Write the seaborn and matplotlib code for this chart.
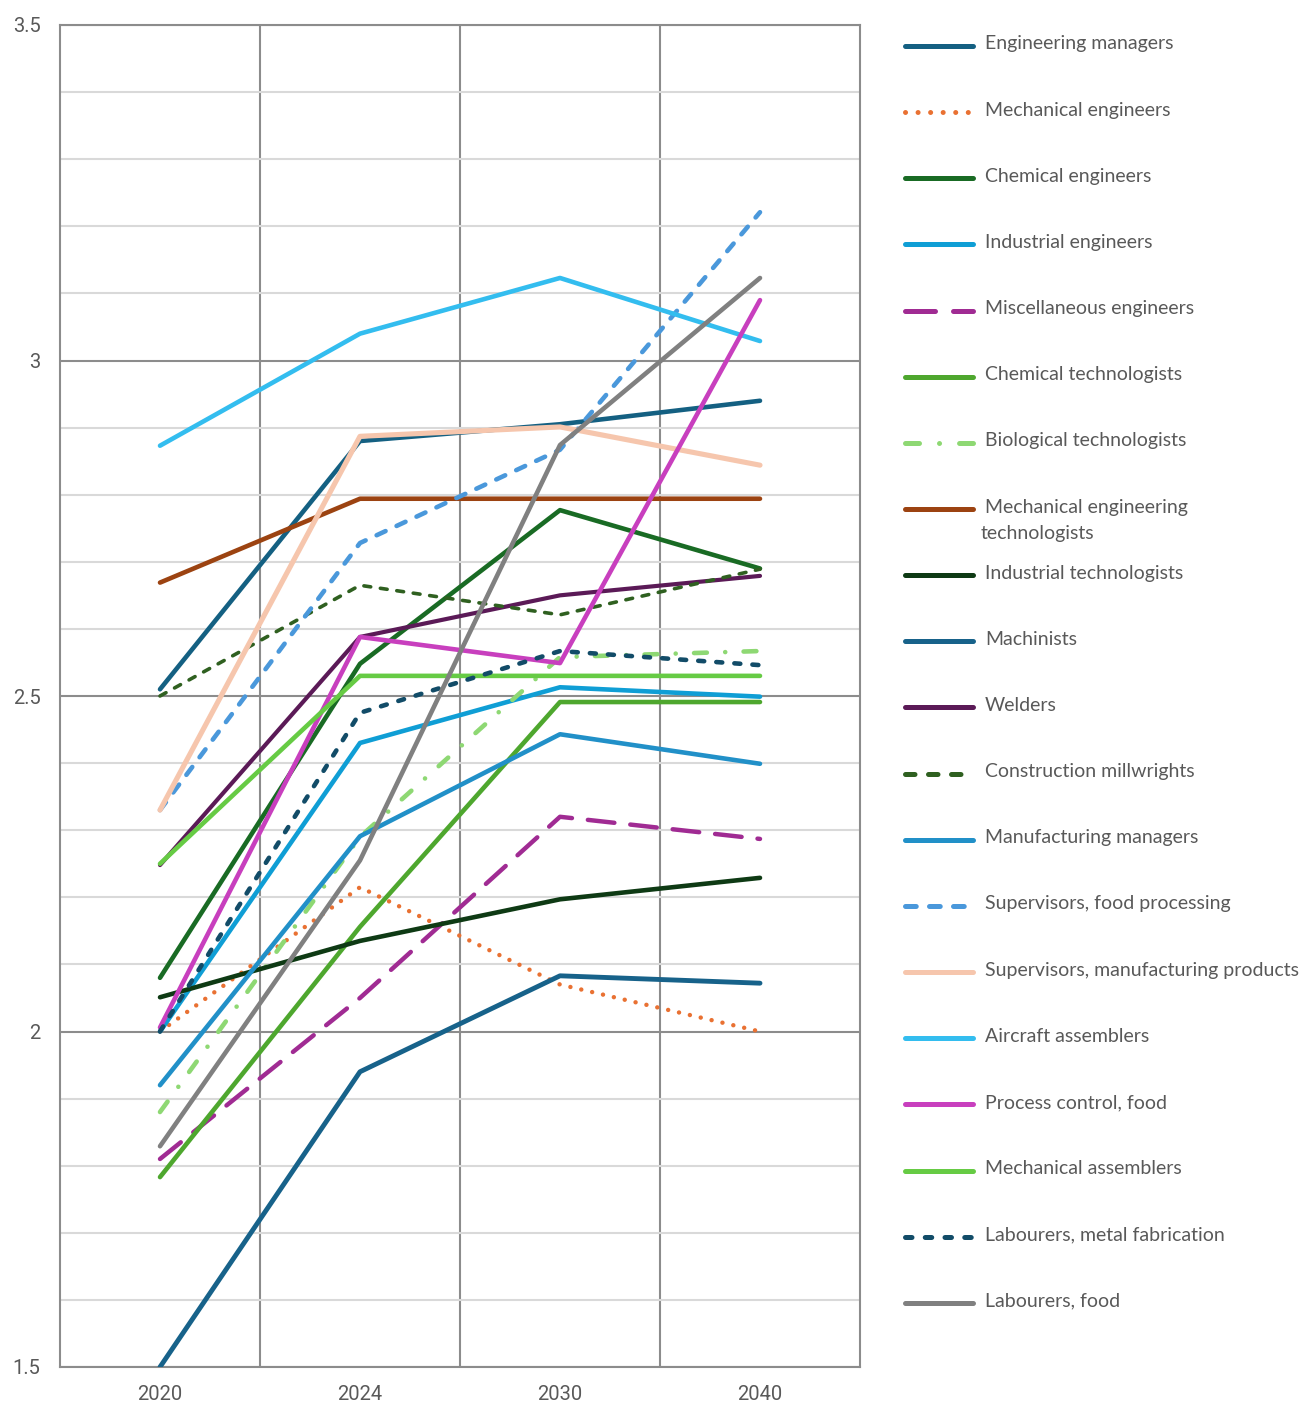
import matplotlib
matplotlib.use("Agg")
import matplotlib.pyplot as plt
from matplotlib.lines import Line2D
from matplotlib.ticker import MultipleLocator
import seaborn as sns
import pandas as pd

# ---------------- data ----------------
years = ["2020", "2024", "2030", "2040"]

labels = [
    "Engineering managers",
    "Mechanical engineers",
    "Chemical engineers",
    "Industrial engineers",
    "Miscellaneous engineers",
    "Chemical technologists",
    "Biological technologists",
    "Mechanical engineering technologists",
    "Industrial technologists",
    "Machinists",
    "Welders",
    "Construction millwrights",
    "Manufacturing managers",
    "Supervisors, food processing",
    "Supervisors, manufacturing products",
    "Aircraft assemblers",
    "Process control, food",
    "Mechanical assemblers",
    "Labourers, metal fabrication",
    "Labourers, food",
]

engineering_managers = [2.51, 2.88, 2.905, 2.94]
mechanical_engineers = [2.00, 2.215, 2.07, 2.00]
chemical_engineers = [2.08, 2.548, 2.777, 2.69]
industrial_engineers = [2.00, 2.43, 2.513, 2.499]
misc_engineers = [1.81, 2.05, 2.32, 2.287]
chemical_technologists = [1.783, 2.156, 2.491, 2.491]
biological_technologists = [1.88, 2.29, 2.558, 2.567]
mech_eng_technologists = [2.669, 2.794, 2.794, 2.794]
industrial_technologists = [2.051, 2.135, 2.197, 2.229]
machinists = [1.50, 1.94, 2.083, 2.072]
welders = [2.248, 2.588, 2.65, 2.679]
construction_millwrights = [2.50, 2.665, 2.621, 2.689]
manufacturing_managers = [1.92, 2.291, 2.443, 2.399]
supervisors_food = [2.33, 2.728, 2.867, 3.221]
supervisors_manufacturing = [2.33, 2.887, 2.901, 2.844]
aircraft_assemblers = [2.873, 3.04, 3.123, 3.029]
process_control_food = [2.006, 2.588, 2.549, 3.09]
mechanical_assemblers = [2.25, 2.53, 2.53, 2.53]
labourers_metal = [2.00, 2.475, 2.567, 2.546]
labourers_food = [1.829, 2.255, 2.874, 3.123]

series = [
    engineering_managers, mechanical_engineers, chemical_engineers,
    industrial_engineers, misc_engineers, chemical_technologists,
    biological_technologists, mech_eng_technologists, industrial_technologists,
    machinists, welders, construction_millwrights, manufacturing_managers,
    supervisors_food, supervisors_manufacturing, aircraft_assemblers,
    process_control_food, mechanical_assemblers, labourers_metal, labourers_food,
]

# ---------------- styles ----------------
SOLID = "-"
styles = {
    "Engineering managers": ("#146082", SOLID, 3.3),
    "Mechanical engineers": ("#E97132", (0, (0.01, 2.5)), 3.2),
    "Chemical engineers": ("#196B24", SOLID, 3.3),
    "Industrial engineers": ("#0F9ED5", SOLID, 3.3),
    "Miscellaneous engineers": ("#A02B93", (0, (6.0, 3.6)), 3.2),
    "Chemical technologists": ("#4EA72E", SOLID, 3.3),
    "Biological technologists": ("#8ED873", (0, (2.8, 4.0, 0.01, 4.0)), 3.3),
    "Mechanical engineering technologists": ("#9C4311", SOLID, 3.3),
    "Industrial technologists": ("#0E3A14", SOLID, 3.3),
    "Machinists": ("#17628A", SOLID, 3.5),
    "Welders": ("#5B1A57", SOLID, 3.0),
    "Construction millwrights": ("#2F6020", (0, (1.9, 2.7)), 2.6),
    "Manufacturing managers": ("#2190C8", SOLID, 3.3),
    "Supervisors, food processing": ("#4A98DB", (0, (2.15, 2.65)), 3.3),
    "Supervisors, manufacturing products": ("#F6C6AD", SOLID, 3.7),
    "Aircraft assemblers": ("#33BDEF", SOLID, 3.3),
    "Process control, food": ("#C83FBE", SOLID, 3.3),
    "Mechanical assemblers": ("#66CB44", SOLID, 3.3),
    "Labourers, metal fabrication": ("#124C68", (0, (1.3, 2.65)), 3.3),
    "Labourers, food": ("#808080", SOLID, 3.3),
}

TEXT = "#595959"
GRID_MAJOR = "#8C8C8C"
GRID_MINOR = "#D9D9D9"
LEG_FONT = ["Lato", "DejaVu Sans"]
TICK_FONT = ["Roboto", "DejaVu Sans"]
FS = 14

sns.set_theme(style="white")
plt.rcParams["font.family"] = TICK_FONT

W, H = 1302, 1404
fig = plt.figure(figsize=(W / 100, H / 100), dpi=100)
fig.patch.set_facecolor("white")
ax = fig.add_axes([60 / W, 1 - 1367 / H, 800 / W, 1342 / H])

xpos = list(range(len(years)))
for i, (lab, vals) in enumerate(zip(labels, series)):
    col, ls, lw = styles[lab]
    df = pd.DataFrame({"x": xpos, "y": vals})
    sns.lineplot(data=df, x="x", y="y", ax=ax, color=col, linewidth=lw,
                 linestyle=ls, dash_capstyle="round", solid_capstyle="round",
                 solid_joinstyle="round", dash_joinstyle="round", zorder=3 + i)

ax.set_xlim(-0.5, len(years) - 0.5)
ax.set_ylim(1.5, 3.5)
ax.set_xlabel("")
ax.set_ylabel("")
ax.set_xticks(xpos)
ax.set_xticklabels(years)
ax.set_xticks([0.5, 1.5, 2.5], minor=True)
ax.set_yticks([1.5, 2.0, 2.5, 3.0, 3.5])
ax.set_yticklabels(["1.5", "2", "2.5", "3", "3.5"])
ax.yaxis.set_minor_locator(MultipleLocator(0.1))
ax.set_axisbelow(True)
ax.grid(which="major", axis="y", color=GRID_MAJOR, linewidth=1.5)
ax.grid(which="minor", axis="y", color=GRID_MINOR, linewidth=1.5)
ax.grid(which="minor", axis="x", color=GRID_MAJOR, linewidth=1.5)
ax.grid(which="major", axis="x", visible=False)
for s in ax.spines.values():
    s.set_color(GRID_MAJOR)
    s.set_linewidth(1.5)
ax.tick_params(axis="both", which="both", length=0, labelsize=14.5, labelcolor=TEXT)
ax.tick_params(axis="y", pad=14)
ax.tick_params(axis="x", pad=13)

# ---------------- legend (drawn manually) ----------------
x0, x1, xt = 905 / W, 973 / W, 985 / W
for i, lab in enumerate(labels):
    py = 46 + i * 66.15
    fy = 1 - py / H
    col, ls, lw = styles[lab]
    fig.add_artist(Line2D([x0, x1], [fy, fy], transform=fig.transFigure,
                          color=col, linestyle=ls, linewidth=3.6,
                          dash_capstyle="round", solid_capstyle="round"))
    ty = 1 - (py - 2) / H
    if lab == "Mechanical engineering technologists":
        fig.text(xt, ty, "Mechanical engineering", ha="left", va="center",
                 fontsize=FS, color=TEXT, family=LEG_FONT)
        fig.text(981 / W, 1 - (py + 24) / H, "technologists", ha="left",
                 va="center", fontsize=FS, color=TEXT, family=LEG_FONT)
    else:
        fig.text(xt, ty, lab, ha="left", va="center", fontsize=FS, color=TEXT,
                 family=LEG_FONT)

fig.savefig("out.png", dpi=100, facecolor="white")
